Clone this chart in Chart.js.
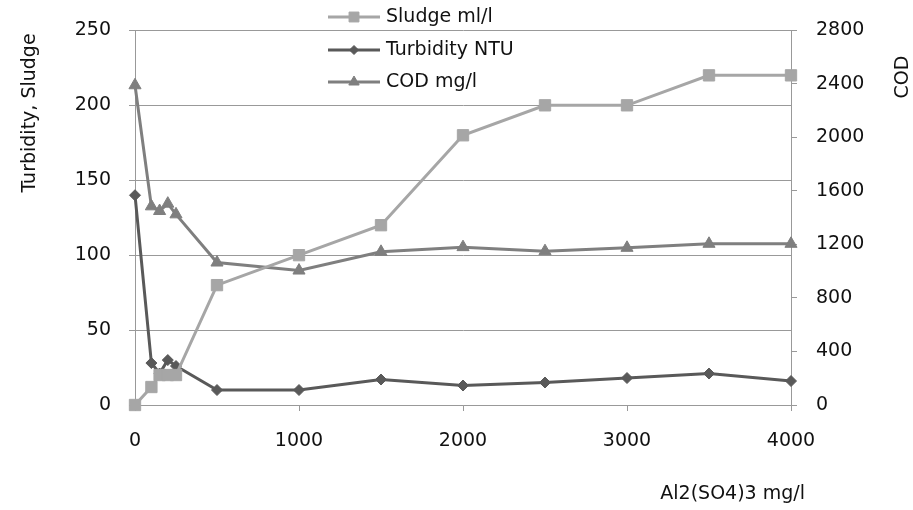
<!DOCTYPE html>
<html><head><meta charset="utf-8">
<script src="https://cdn.jsdelivr.net/npm/chart.js@4.4.1/dist/chart.umd.min.js"></script>
<style>html,body{margin:0;padding:0;background:#fff}#wrap{width:913px;height:510px}</style>
</head><body><div id="wrap"><canvas id="c" width="913" height="510"></canvas></div>
<script>
// Data
const doses = [0, 100, 150, 200, 250, 500, 1000, 1500, 2000, 2500, 3000, 3500, 4000];
const sludge = [0, 12, 20, 20, 20, 80, 100, 120, 180, 200, 200, 220, 220];
const turbidity = [140, 28, 21, 30, 26, 10, 10, 17, 13, 15, 18, 21, 16];
const cod = [2390, 1485, 1450, 1505, 1425, 1065, 1005, 1145, 1180, 1150, 1175, 1205, 1205];
const seriesNames = ['Sludge ml/l', 'Turbidity NTU', 'COD mg/l'];
const xTickValues = [0, 1000, 2000, 3000, 4000];
const leftTickValues = [0, 50, 100, 150, 200, 250];
const rightTickValues = [0, 400, 800, 1200, 1600, 2000, 2400, 2800];
const xTitle = 'Al2(SO4)3 mg/l';
const leftTitle = 'Turbidity, Sludge';
const rightTitle = 'COD';

const FONT = "'DejaVu Sans', sans-serif";
const FS = 19;
const AXIS = '#999999';
const TXT = '#111111';

const pts = arr => doses.map((d, i) => ({x: d, y: arr[i]}));
const plain = v => String(v);

const ds = (label, data, color, style, radius, axis) => ({
  label, data, yAxisID: axis,
  borderColor: color, backgroundColor: color,
  pointBackgroundColor: color, pointBorderColor: color,
  pointStyle: style, pointRadius: radius, pointHoverRadius: radius,
  borderWidth: 3, pointBorderWidth: 1, tension: 0, clip: false
});

const plugin = {
  id: 'extras',
  afterDraw(chart) {
    const ctx = chart.ctx;
    ctx.save();
    ctx.fillStyle = TXT;
    ctx.font = FS + 'px ' + FONT;
    // left title
    ctx.save();
    ctx.translate(30, 113);
    ctx.rotate(-Math.PI / 2);
    ctx.textAlign = 'center'; ctx.textBaseline = 'middle';
    ctx.fillText(leftTitle, 0, 0);
    ctx.restore();
    // right title
    ctx.save();
    ctx.translate(903, 77);
    ctx.rotate(-Math.PI / 2);
    ctx.textAlign = 'center'; ctx.textBaseline = 'middle';
    ctx.fillText(rightTitle, 0, 0);
    ctx.restore();
    // x title
    ctx.textAlign = 'right'; ctx.textBaseline = 'middle';
    ctx.fillText(xTitle, 805, 494);
    // legend
    const rows = [17, 50, 82];
    chart.data.datasets.forEach((d, i) => {
      const y = rows[i];
      ctx.strokeStyle = d.borderColor; ctx.lineWidth = 3;
      ctx.beginPath(); ctx.moveTo(328, y); ctx.lineTo(380, y); ctx.stroke();
      ctx.fillStyle = d.backgroundColor; ctx.strokeStyle = d.borderColor; ctx.lineWidth = 1;
      Chart.helpers.drawPoint(ctx, {pointStyle: d.pointStyle, radius: d.pointRadius - 1, borderWidth: 1}, 354, y);
      ctx.fillStyle = TXT;
      ctx.textAlign = 'left'; ctx.textBaseline = 'middle';
      ctx.fillText(d.label, 386, y);
    });
    ctx.restore();
  }
};

new Chart(document.getElementById('c'), {
  type: 'line',
  data: {
    datasets: [
      ds(seriesNames[0], pts(sludge), '#a6a6a6', 'rect', 8, 'y'),
      ds(seriesNames[1], pts(turbidity), '#595959', 'rectRot', 5.5, 'y'),
      ds(seriesNames[2], pts(cod), '#7f7f7f', 'triangle', 7, 'y2')
    ]
  },
  options: {
    responsive: false, animation: false,
    layout: {padding: {top: 29, left: 0, right: 0, bottom: 0}},
    plugins: {legend: {display: false}, tooltip: {enabled: false}},
    scales: {
      x: {
        type: 'linear', min: 0, max: 4000,
        afterBuildTicks: s => { s.ticks = xTickValues.map(v => ({value: v})); },
        afterFit: s => { s.height = 105; },
        grid: {drawOnChartArea: false, drawTicks: true, tickLength: 6, color: AXIS},
        border: {color: AXIS, width: 1},
        ticks: {padding: 19, color: TXT, font: {family: FONT, size: FS}, maxRotation: 0, callback: plain}
      },
      y: {
        position: 'left', min: 0, max: 250,
        afterBuildTicks: s => { s.ticks = leftTickValues.map(v => ({value: v})); },
        afterFit: s => { s.width = 135; },
        grid: {drawTicks: true, tickLength: 6, color: AXIS},
        border: {color: AXIS, width: 1},
        ticks: {padding: 18, color: TXT, font: {family: FONT, size: FS}, callback: plain}
      },
      y2: {
        position: 'right', min: 0, max: 2800,
        afterBuildTicks: s => { s.ticks = rightTickValues.map(v => ({value: v})); },
        afterFit: s => { s.width = 122; },
        grid: {drawOnChartArea: false, drawTicks: true, tickLength: 6, color: AXIS},
        border: {color: AXIS, width: 1},
        ticks: {padding: 19, color: TXT, font: {family: FONT, size: FS}, callback: plain}
      }
    }
  },
  plugins: [plugin]
});
</script></body></html>
